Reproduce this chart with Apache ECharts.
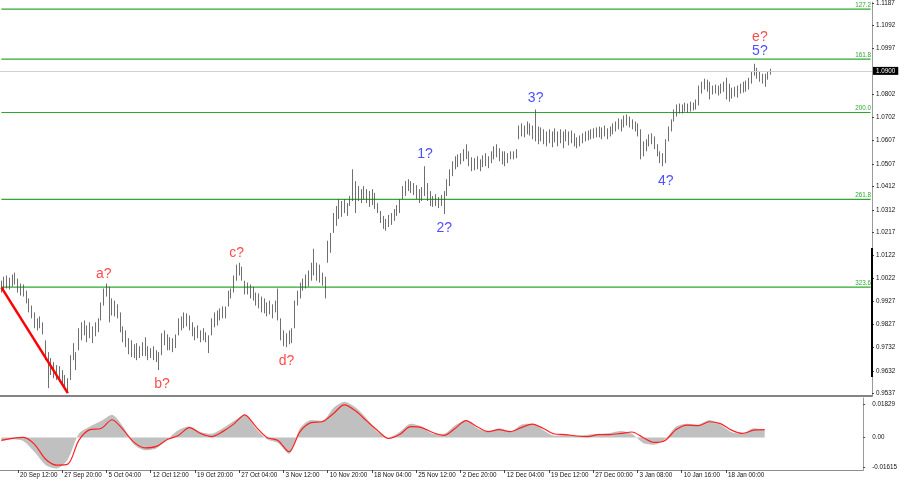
<!DOCTYPE html>
<html><head><meta charset="utf-8">
<script src="https://cdn.jsdelivr.net/npm/echarts@6.0.0/dist/echarts.min.js"></script>
<style>html,body{margin:0;padding:0;background:#fff;overflow:hidden}#c{width:900px;height:485px}</style>
</head><body><div id="c"></div>
<script>
// ---- price bars (every 8 hours), highs and lows ----
const highs = [1.0013,1.0030,1.0035,1.0026,1.0039,1.0047,1.0022,1.0001,0.9997,0.9971,
0.9938,0.9908,0.9879,0.9854,0.9862,0.9837,0.9761,0.9711,0.9686,0.9669,
0.9656,0.9652,0.9635,0.9614,0.9601,0.9698,0.9749,0.9711,0.9812,0.9837,
0.9845,0.9824,0.9837,0.9820,0.9837,0.9854,0.9921,0.9980,1.0001,0.9988,
0.9938,0.9929,0.9913,0.9879,0.9820,0.9803,0.9770,0.9761,0.9744,0.9749,
0.9736,0.9753,0.9774,0.9736,0.9728,0.9736,0.9719,0.9711,0.9791,0.9803,
0.9786,0.9774,0.9770,0.9786,0.9854,0.9862,0.9879,0.9875,0.9866,0.9837,
0.9816,0.9824,0.9803,0.9812,0.9795,0.9782,0.9854,0.9879,0.9887,0.9896,
0.9904,0.9904,0.9971,0.9980,1.0035,1.0081,1.0089,1.0072,1.0013,1.0005,
0.9997,0.9988,0.9963,0.9959,0.9946,0.9938,0.9921,0.9929,0.9913,0.9929,
0.9980,0.9854,0.9803,0.9791,0.9803,0.9812,0.9929,0.9971,1.0005,1.0022,
1.0039,1.0056,1.0089,1.0148,1.0089,1.0081,1.0047,1.0030,1.0182,1.0215,
1.0299,1.0329,1.0358,1.0350,1.0358,1.0341,1.0371,1.0484,1.0434,1.0413,
1.0400,1.0413,1.0400,1.0392,1.0400,1.0384,1.0341,1.0308,1.0287,1.0274,
1.0291,1.0299,1.0316,1.0333,1.0358,1.0413,1.0434,1.0442,1.0434,1.0426,
1.0417,1.0400,1.0409,1.0497,1.0426,1.0392,1.0371,1.0379,1.0367,1.0375,
1.0392,1.0442,1.0484,1.0518,1.0539,1.0547,1.0552,1.0569,1.0590,1.0560,
1.0535,1.0531,1.0539,1.0526,1.0543,1.0552,1.0539,1.0560,1.0581,1.0590,
1.0573,1.0560,1.0560,1.0552,1.0560,1.0560,1.0569,1.0669,1.0678,1.0669,
1.0686,1.0678,1.0669,1.0737,1.0665,1.0661,1.0653,1.0644,1.0653,1.0644,
1.0657,1.0644,1.0653,1.0644,1.0653,1.0644,1.0648,1.0636,1.0619,1.0627,
1.0636,1.0644,1.0648,1.0653,1.0657,1.0661,1.0665,1.0661,1.0669,1.0657,
1.0665,1.0678,1.0686,1.0699,1.0695,1.0711,1.0716,1.0707,1.0695,1.0686,
1.0678,1.0653,1.0602,1.0611,1.0632,1.0636,1.0623,1.0590,1.0560,1.0552,
1.0611,1.0665,1.0695,1.0737,1.0758,1.0762,1.0758,1.0766,1.0762,1.0770,
1.0766,1.0779,1.0838,1.0854,1.0867,1.0863,1.0854,1.0838,1.0842,1.0838,
1.0846,1.0854,1.0871,1.0846,1.0829,1.0833,1.0838,1.0846,1.0854,1.0859,
1.0871,1.0897,1.0930,1.0913,1.0897,1.0888,1.0888,1.0897,1.0909];
const lows = [0.9963,0.9971,0.9980,0.9976,0.9988,0.9997,0.9963,0.9950,0.9946,0.9917,
0.9879,0.9854,0.9812,0.9803,0.9812,0.9786,0.9677,0.9559,0.9614,0.9601,
0.9593,0.9585,0.9576,0.9559,0.9538,0.9593,0.9677,0.9635,0.9719,0.9761,
0.9782,0.9753,0.9770,0.9749,0.9778,0.9795,0.9845,0.9908,0.9946,0.9837,
0.9866,0.9862,0.9854,0.9795,0.9753,0.9732,0.9702,0.9690,0.9686,0.9677,
0.9686,0.9694,0.9694,0.9677,0.9686,0.9677,0.9669,0.9635,0.9698,0.9740,
0.9719,0.9719,0.9711,0.9728,0.9782,0.9803,0.9812,0.9820,0.9803,0.9778,
0.9761,0.9770,0.9753,0.9761,0.9753,0.9707,0.9782,0.9816,0.9824,0.9845,
0.9854,0.9854,0.9904,0.9938,0.9963,1.0013,1.0035,1.0013,0.9955,0.9955,
0.9938,0.9929,0.9908,0.9896,0.9879,0.9875,0.9862,0.9871,0.9854,0.9879,
0.9845,0.9761,0.9736,0.9732,0.9744,0.9749,0.9812,0.9908,0.9938,0.9971,
0.9980,0.9988,1.0013,1.0035,1.0013,1.0005,0.9992,0.9938,1.0089,1.0131,
1.0215,1.0245,1.0274,1.0283,1.0299,1.0287,1.0329,1.0350,1.0299,1.0350,
1.0341,1.0358,1.0341,1.0325,1.0333,1.0316,1.0299,1.0257,1.0232,1.0224,
1.0240,1.0249,1.0266,1.0287,1.0299,1.0358,1.0371,1.0392,1.0384,1.0375,
1.0358,1.0341,1.0350,1.0371,1.0350,1.0329,1.0325,1.0329,1.0320,1.0329,
1.0295,1.0371,1.0413,1.0455,1.0484,1.0493,1.0505,1.0518,1.0527,1.0497,
1.0476,1.0480,1.0484,1.0476,1.0493,1.0497,1.0489,1.0510,1.0526,1.0535,
1.0518,1.0505,1.0497,1.0510,1.0526,1.0526,1.0531,1.0611,1.0623,1.0619,
1.0632,1.0627,1.0611,1.0602,1.0590,1.0602,1.0590,1.0581,1.0594,1.0577,
1.0598,1.0581,1.0594,1.0573,1.0602,1.0585,1.0594,1.0581,1.0573,1.0581,
1.0594,1.0602,1.0606,1.0611,1.0615,1.0619,1.0619,1.0611,1.0623,1.0611,
1.0623,1.0632,1.0644,1.0653,1.0644,1.0661,1.0669,1.0661,1.0653,1.0644,
1.0623,1.0526,1.0539,1.0560,1.0581,1.0590,1.0569,1.0539,1.0510,1.0497,
1.0510,1.0602,1.0644,1.0686,1.0707,1.0720,1.0720,1.0728,1.0724,1.0728,
1.0733,1.0737,1.0754,1.0804,1.0821,1.0812,1.0779,1.0800,1.0804,1.0796,
1.0804,1.0812,1.0779,1.0770,1.0783,1.0791,1.0787,1.0804,1.0808,1.0812,
1.0821,1.0846,1.0880,1.0867,1.0854,1.0846,1.0833,1.0863,1.0884];

// ---- MACD (sampled every 4 bars) ----
const macdHist = [-0.002,-0.001,-0.002,-0.008,-0.015,-0.017,-0.012,0.002,0.006,0.009,
0.0125,0.006,-0.004,-0.007,-0.006,-0.001,0.004,0.006,0.003,0.002,
0.005,0.009,0.0125,0.005,-0.001,-0.003,-0.009,0.005,0.0095,0.009,
0.016,0.0195,0.0165,0.0105,0.003,0.000,0.003,0.0075,0.006,0.002,
0.002,0.0065,0.0095,0.005,0.003,0.005,0.003,0.007,0.0075,0.004,
0.001,0.0015,0.001,0.0015,0.002,0.0025,0.0035,0.002,-0.003,-0.004,
-0.001,0.006,0.0075,0.007,0.0095,0.007,0.003,0.002,0.005,0.004];
const macdSignal = [-0.0016,-0.0005,0.0,-0.0038,-0.0119,-0.0151,-0.0146,-0.0016,0.0043,0.0049,
0.0097,0.0043,-0.0027,-0.0057,-0.0049,-0.0011,0.0011,0.0054,0.0022,0.0005,
0.0032,0.0073,0.0124,0.0059,0.0,-0.0016,-0.0078,0.0032,0.0081,0.0086,
0.0130,0.0178,0.0146,0.0092,0.0038,-0.0005,0.0016,0.0059,0.0054,0.0027,
0.0011,0.0049,0.0092,0.0059,0.0032,0.0043,0.0032,0.0054,0.0073,0.0049,
0.0019,0.0016,0.0008,0.0005,0.0016,0.0016,0.0022,0.0030,0.0,-0.0027,
-0.0016,0.0043,0.0068,0.0065,0.0086,0.0076,0.0040,0.0022,0.0040,0.0043];
const macdStep = 4;

// ---- axes ----
const priceTicks = [0.9537,0.9632,0.9732,0.9827,0.9927,1.0022,1.0122,1.0217,1.0312,1.0412,1.0507,1.0607,1.0702,1.0802,1.0997,1.1092,1.1187];
const macdTicks = [0.01829, 0, -0.01615];
const timeLabels = ['20 Sep 12:00','27 Sep 20:00','5 Oct 04:00','12 Oct 12:00','19 Oct 20:00','27 Oct 04:00','3 Nov 12:00','10 Nov 20:00','18 Nov 04:00','25 Nov 12:00','2 Dec 20:00','12 Dec 04:00','19 Dec 12:00','27 Dec 00:00','3 Jan 08:00','10 Jan 16:00','18 Jan 00:00'];
const timeLabelBars = [6,22,38,54,70,86,102,118,134,150,166,182,198,214,230,246,262];

// ---- levels and annotations ----
const fibNames = ['127.2','161.8','200.0','261.8','323.6'];
const fibPrices = [1.1161,1.0950,1.0724,1.0357,0.9986];
const lastPrice = 1.0900;
const trendFrom = [0, 0.9985];
const trendTo = [24, 0.9538];
const waveNames = ['a?','b?','c?','d?','1?','2?','3?','4?','5?','e?'];
const waveBars  = [37,58,85,103,153,160,193,240,274,274];
const wavePrices= [1.0039,0.9576,1.0130,0.9674,1.0549,1.0236,1.0784,1.0434,1.0984,1.1044];

const N = 315;
const cats = Array.from({length: N}, (_, i) => String(i));
const candles = highs.map((h, i) => [lows[i], h, lows[i], h]);
const W = 872 / N;
const macdRight = 36;
const macdMin = -0.5;
const macdMax = macdMin + (900 - macdRight) / W;

const RED = '#ff1c1c', BLUE = '#2222ff', GREEN = '#2ea82e', BAR = '#4a4a4a';
const FS = 6.3;

// fib levels: a flat two-point line per level, with its name set at the right end
const fibSeries = fibPrices.map((p, k) => ({
  type: 'line', xAxisIndex: 0, yAxisIndex: 0, symbol: 'none', silent: true, z: 1,
  data: [[0, p], [N - 1, p]],
  lineStyle: {color: GREEN, width: 1.2, type: 'solid'},
  markLine: {silent: true, symbol: ['none', 'none'], animation: false, precision: 4,
    lineStyle: {color: 'rgba(0,0,0,0)', width: 0},
    data: [{yAxis: p,
      label: {show: true, position: 'insideEndTop', formatter: fibNames[k], color: GREEN, fontSize: FS, distance: [1, 1]}}]}
}));

const chart = echarts.init(document.getElementById('c'));
chart.setOption({
  animation: false,
  backgroundColor: '#ffffff',
  textStyle: {fontFamily: 'Liberation Sans'},
  grid: [
    {left: 0, right: 28, top: 0, bottom: 89},
    {left: 0, right: macdRight, top: 398, bottom: 15}
  ],
  xAxis: [
    {type: 'category', gridIndex: 0, data: cats, boundaryGap: true,
     axisLine: {show: true, onZero: false, lineStyle: {color: '#5c5c5c', width: 1.5}},
     axisTick: {show: false}, axisLabel: {show: false}, splitLine: {show: false}},
    {type: 'value', gridIndex: 1, min: macdMin, max: macdMax,
     axisLine: {show: true, onZero: false, lineStyle: {color: '#8c8c8c', width: 1}},
     axisTick: {show: true, customValues: timeLabelBars, length: 3, lineStyle: {color: '#444'}},
     axisLabel: {show: true, customValues: timeLabelBars, fontSize: FS, color: '#111', align: 'left', margin: 2,
       padding: [0, 0, 0, 2],
       formatter: v => { const k = timeLabelBars.indexOf(Math.round(v)); return k >= 0 ? timeLabels[k] : ''; }},
     splitLine: {show: false}}
  ],
  yAxis: [
    {type: 'value', gridIndex: 0, position: 'right', min: 0.95256, max: 1.11908,
     axisLine: {show: true, onZero: false, lineStyle: {color: '#9a9a9a'}},
     axisTick: {show: true, customValues: priceTicks, length: 2, lineStyle: {color: '#444'}},
     axisLabel: {show: true, customValues: priceTicks, fontSize: FS, color: '#111', margin: 4,
       formatter: v => v.toFixed(4)},
     splitLine: {show: false}},
    {type: 'value', gridIndex: 1, position: 'right', min: -0.0178, max: 0.0216,
     axisLine: {show: true, onZero: false, lineStyle: {color: '#9a9a9a'}},
     axisTick: {show: true, customValues: macdTicks, length: 2, lineStyle: {color: '#444'}},
     axisLabel: {show: true, customValues: macdTicks, fontSize: FS, color: '#111', margin: 9,
       formatter: v => v === 0 ? '0.00' : v.toFixed(5)},
     splitLine: {show: false}}
  ],
  series: fibSeries.concat([
    {type: 'candlestick', name: 'EURUSD', xAxisIndex: 0, yAxisIndex: 0, data: candles, z: 3,
     barWidth: 1.2,
     itemStyle: {color: BAR, color0: BAR, borderColor: BAR, borderColor0: BAR, borderWidth: 0.8}},
    {type: 'scatter', xAxisIndex: 0, yAxisIndex: 0, symbolSize: 0, silent: true, z: 2,
     data: waveNames.map((n, k) => ({name: n, value: [waveBars[k], wavePrices[k]],
        label: {color: /[a-z]/.test(n) ? RED : BLUE}})),
     label: {show: true, position: 'inside', formatter: p => p.name, fontSize: 14, fontFamily: 'Liberation Sans'},
     markLine: {silent: true, symbol: ['none', 'none'], animation: false, precision: 4,
       data: [
         {yAxis: lastPrice, lineStyle: {color: '#cfcfcf', width: 1, type: 'solid'},
          label: {show: true, position: 'end', formatter: lastPrice.toFixed(4), color: '#fff', backgroundColor: '#000',
                  fontSize: FS, padding: [1, 3], distance: 1}},
         [{coord: trendFrom, lineStyle: {color: '#ff0000', width: 2.5, type: 'solid'}, label: {show: false}},
          {coord: trendTo}]
       ]}},
    {type: 'line', xAxisIndex: 1, yAxisIndex: 1, symbol: 'none', smooth: 0.25,
     data: macdHist.map((v, j) => [j * macdStep, v]),
     lineStyle: {width: 0, color: '#c0c0c0'}, areaStyle: {color: '#c0c0c0', opacity: 1}},
    {type: 'line', xAxisIndex: 1, yAxisIndex: 1, symbol: 'none', smooth: 0.3,
     data: macdSignal.map((v, j) => [j * macdStep, v]),
     lineStyle: {width: 1.2, color: '#ff2020'}}
  ]),
  graphic: [
    {type: 'rect', shape: {x: 871, y: 248, width: 2, height: 129}, style: {fill: '#000'}, silent: true, z: 100}
  ]
});
</script>
</body></html>
